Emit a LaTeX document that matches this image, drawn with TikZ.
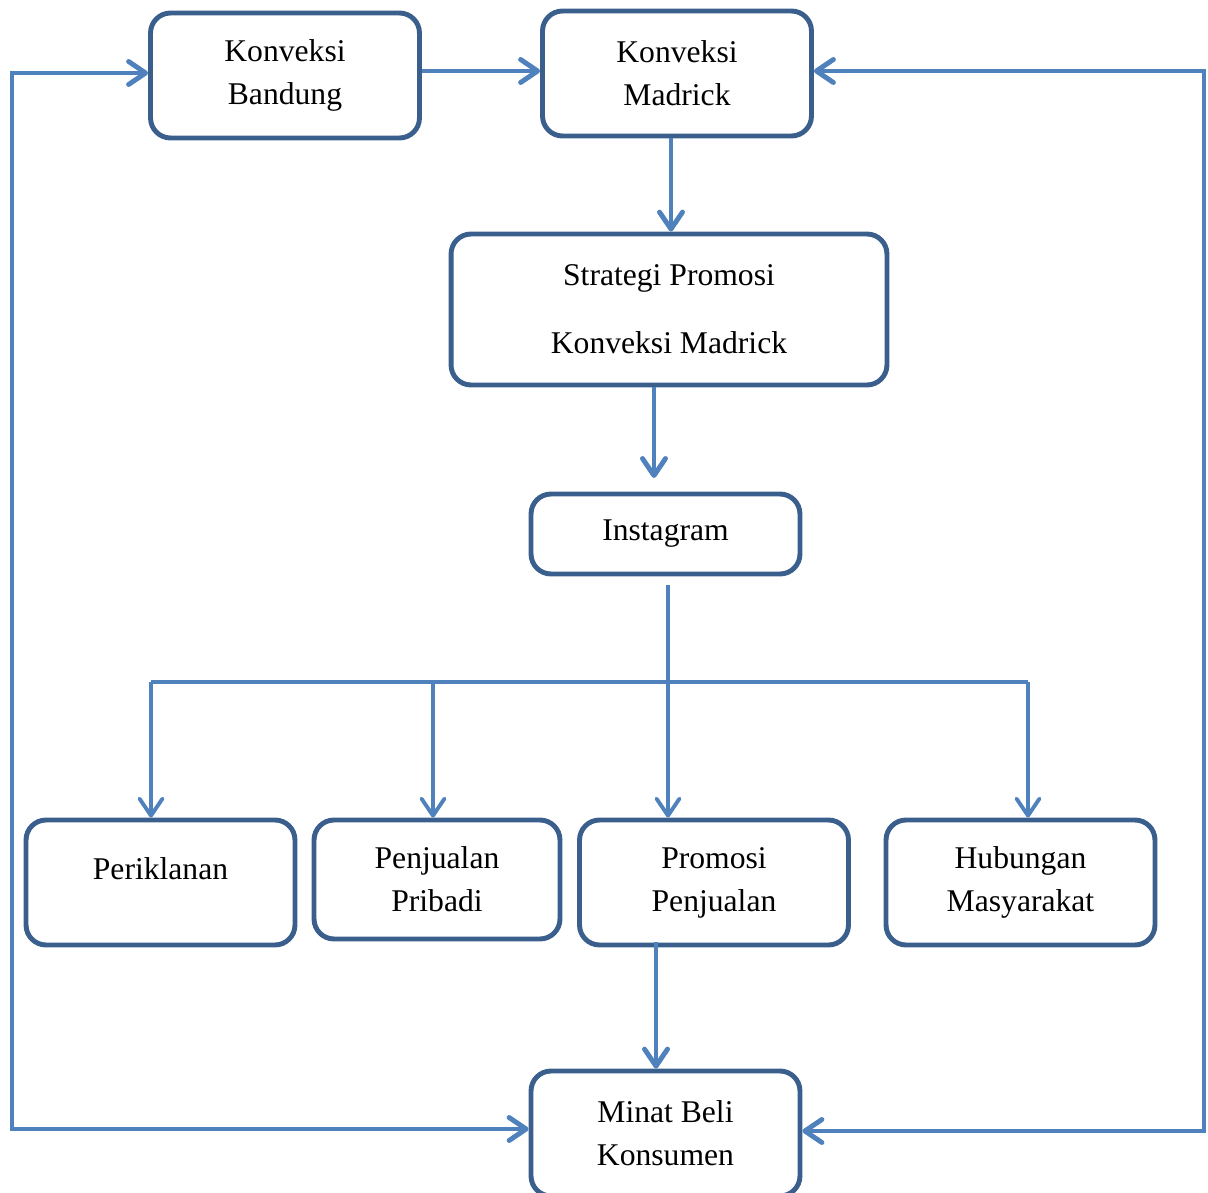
\documentclass[tikz,border=0pt]{standalone}
\usepackage{fontspec}
\setmainfont{Liberation Serif}
\usetikzlibrary{arrows.meta,positioning,calc}
\definecolor{garis}{HTML}{4F81BD}
\definecolor{tepi}{HTML}{3A5F8D}
\tikzset{
  >={Straight Barb[length=3.4mm,width=4.6mm,round]},
  % kotak
  kotak/.style={rectangle,rounded corners=4mm,draw=tepi,fill=white,line width=2.8pt,
                align=center,inner sep=0pt,font=\fontsize{18}{24.4}\selectfont},
  lebar/.style={minimum width=5.38cm,minimum height=2.5cm},
  % garis
  panah/.style={->,draw=garis,line width=2.8pt},
  cabang/.style={->,draw=garis,line width=2.2pt},
  bus/.style={draw=garis,line width=2.8pt},
  putar/.style={<->,draw=garis,line width=2.8pt},
}

\begin{document}
\begin{tikzpicture}[x=0.02cm,y=-0.02cm]
  \useasboundingbox (0,0) rectangle (1208,1193);
  \node[kotak,lebar] (bandung) at (285,75.5) {Konveksi\\Bandung};
  \node[kotak,lebar] (madrick) at (677,73.5) {Konveksi\\Madrick};
  \node[kotak,minimum width=8.72cm,minimum height=3.02cm] (strategi) at (669,309.5)
    {Strategi Promosi\\[14.5pt]Konveksi Madrick};
  \node[kotak,minimum width=5.38cm,minimum height=1.6cm] (insta) at (665.5,534) {Instagram};
  \node[kotak,lebar,text depth=0.56cm] (iklan) at (160.5,882.5) {Periklanan};
  \node[kotak,minimum width=4.92cm,minimum height=2.38cm] (pribadi) at (437,879.5) {Penjualan\\Pribadi};
  \node[kotak,lebar] (promosi) at (714,882.5) {Promosi\\Penjualan};
  \node[kotak,lebar] (humas) at (1020.5,882.5) {Hubungan\\Masyarakat};
  \node[kotak,lebar] (minat) at (665.5,1133.5) {Minat Beli\\Konsumen};
  % alur utama
  \path ([yshift=0.09cm]bandung.east) coordinate (b1);
  \draw[panah] (b1) -- (b1 -| madrick.west);
  \path ([xshift=-0.12cm]madrick.south) coordinate (m1);
  \draw[panah] (m1) -- (m1 |- strategi.north);
  \coordinate (ujung) at (654,478);
  \draw[panah] (strategi.south -| ujung) -- (ujung);
  \coordinate (pusat) at (668,682);
  \draw[cabang,-] ([yshift=-0.18cm]insta.south -| pusat) -- (pusat);
  \draw[bus] (151,682) -- (1028,682);
  \foreach \x/\k in {151/iklan,433/pribadi,668/promosi,1028/humas}{
    \coordinate (c\k) at (\x,682);
    \draw[cabang] (c\k) -- (c\k |- \k.north);
  }
  \path ([xshift=-1.16cm,yshift=0.1cm]promosi.south) coordinate (turun);
  \draw[panah] (turun) -- (turun |- minat.north);
  % umpan balik
  \coordinate (kiri) at (12,600);
  \coordinate (kanan) at (1204,600);
  \draw[putar] ([yshift=0.05cm]bandung.west) -| (kiri) |- ([yshift=0.09cm]minat.west);
  \draw[putar] ([yshift=0.05cm]madrick.east) -| (kanan) |- ([yshift=0.05cm]minat.east);
\end{tikzpicture}
\end{document}
